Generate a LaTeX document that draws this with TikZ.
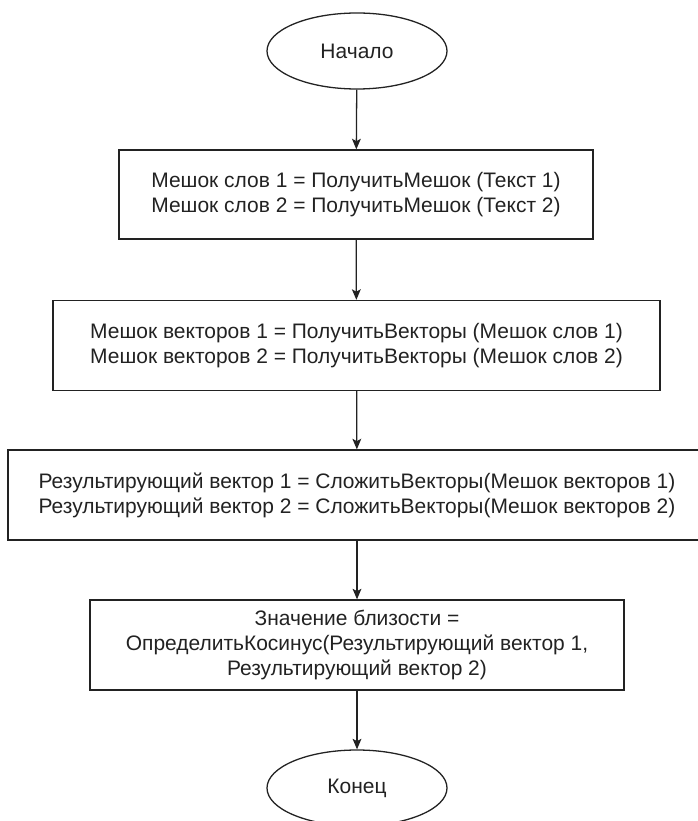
\documentclass[tikz,border=0pt]{standalone}
\usepackage{fontspec}
\setmainfont{Liberation Sans}
\usetikzlibrary{shapes.geometric,arrows.meta}
\definecolor{inkgray}{HTML}{222222}
\begin{document}
\begin{tikzpicture}[x=0.03cm,y=-0.03cm,
		every node/.style={font=\fontsize{17.9pt}{21.3pt}\selectfont, text=inkgray, align=center, inner sep=0pt},
		term/.style={ellipse, draw=inkgray, line width=1.1pt, minimum width=5.4cm, minimum height=2.28cm},
		box/.style={rectangle, draw=inkgray, line width=1.1pt, minimum height=2.7cm},
		flow/.style={draw=inkgray, line width=1.1pt, -{Stealth[length=9pt,width=7.5pt,inset=2pt]}}]
		\useasboundingbox (0,0) rectangle (697,821);

		\node[term] (start) at (357,51) {Начало};
		\node[box, minimum width=14.22cm, minimum height=2.67cm] (bags) at (356,194.5) {Мешок слов 1 = ПолучитьМешок (Текст 1)\\Мешок слов 2 = ПолучитьМешок (Текст 2)};
		\node[box, minimum width=18.21cm] (vecs) at (356.5,345.5) {Мешок векторов 1 = ПолучитьВекторы (Мешок слов 1)\\Мешок векторов 2 = ПолучитьВекторы (Мешок слов 2)};
		\node[box, minimum width=20.94cm] (sums) at (357,495) {Результирующий вектор 1 = СложитьВекторы(Мешок векторов 1)\\Результирующий вектор 2 = СложитьВекторы(Мешок векторов 2)};
		\node[box, minimum width=16.02cm] (cosine) at (357,645) {Значение близости =\\ОпределитьКосинус(Результирующий вектор 1,\\Результирующий вектор 2)};
		\node[term] (finish) at (357,788) {Конец};

		\draw[flow] (start) -- (bags);
		\draw[flow] (bags) -- (vecs);
		\draw[flow] (vecs) -- (sums);
		\draw[flow] (sums) -- (cosine);
		\draw[flow] (cosine) -- (finish);
	\end{tikzpicture}
\end{document}
